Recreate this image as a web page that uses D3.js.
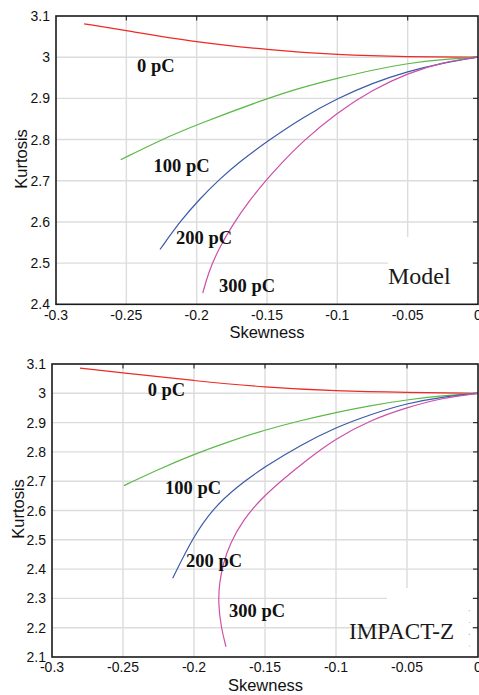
<!DOCTYPE html>
<html><head><meta charset="utf-8">
<script src="https://cdn.jsdelivr.net/npm/d3@7"></script>
<style>html,body{margin:0;padding:0;background:#fff;}svg{display:block;}</style>
</head><body>
<svg id="chart" width="479" height="695"></svg>
<script>
// ---------- DATA ----------
const xTicks = [-0.3, -0.25, -0.2, -0.15, -0.1, -0.05, 0];
const yTicksModel = [2.4, 2.5, 2.6, 2.7, 2.8, 2.9, 3, 3.1];
const yTicksImpact = [2.1, 2.2, 2.3, 2.4, 2.5, 2.6, 2.7, 2.8, 2.9, 3, 3.1];
const seriesNames = ["0 pC", "100 pC", "200 pC", "300 pC"];
const panelTitles = ["Model", "IMPACT-Z"];
const xTitle = "Skewness";
const yTitle = "Kurtosis";

// Model panel
const model0Skew = [-0.28, -0.25, -0.2, -0.15, -0.1, -0.05, 0];
const model0Kurt = [3.081, 3.0645, 3.036, 3.018, 3.0056, 3.0007, 3.0];
const model100Skew = [-0.254, -0.225, -0.2, -0.15, -0.125, -0.1, -0.075, -0.05, -0.025, 0];
const model100Kurt = [2.751, 2.800, 2.836, 2.900, 2.927, 2.949, 2.969, 2.985, 2.995, 3.0];
const model200Skew = [-0.2261, -0.2118, -0.1976, -0.1834, -0.1692, -0.15, -0.125, -0.1, -0.075, -0.05, -0.025, 0];
const model200Kurt = [2.533, 2.6015, 2.657, 2.705, 2.7465, 2.7954, 2.853, 2.900, 2.9373, 2.9654, 2.9864, 3.0];
const model300Skew = [-0.1957, -0.1917, -0.1846, -0.1751, -0.1621, -0.1502, -0.1408, -0.125, -0.1, -0.075, -0.05, -0.025, 0];
const model300Kurt = [2.427, 2.477, 2.533, 2.590, 2.654, 2.703, 2.739, 2.795, 2.866, 2.921, 2.961, 2.988, 3.0];

// IMPACT-Z panel
const impact0Skew = [-0.2803, -0.25, -0.2, -0.15, -0.1, -0.05, 0];
const impact0Kurt = [3.086, 3.070, 3.043, 3.0205, 3.0078, 3.003, 3.0];
const impact100Skew = [-0.2493, -0.225, -0.2, -0.175, -0.15, -0.125, -0.1, -0.075, -0.05, -0.025, 0];
const impact100Kurt = [2.685, 2.741, 2.792, 2.836, 2.875, 2.907, 2.935, 2.959, 2.978, 2.992, 3.0];
const impact200Skew = [-0.215, -0.2005, -0.1864, -0.1699, -0.15, -0.125, -0.1, -0.075, -0.05, -0.025, 0];
const impact200Kurt = [2.369, 2.511, 2.608, 2.681, 2.750, 2.823, 2.884, 2.929, 2.966, 2.988, 3.0];
const impact300Skew = [-0.1775, -0.181, -0.1829, -0.1822, -0.1794, -0.1746, -0.1653, -0.1535, -0.1394, -0.12, -0.1, -0.075, -0.05, -0.025, 0];
const impact300Kurt = [2.135, 2.203, 2.283, 2.352, 2.420, 2.488, 2.568, 2.636, 2.698, 2.775, 2.846, 2.910, 2.952, 2.984, 3.0];

// ---------- STYLE / LAYOUT ----------
const colors = ["#ee2a24", "#5cb947", "#3a5ba8", "#cc4fa8"];
const panels = [
  { left: 56, right: 478, top: 16, bottom: 304.3, yDomain: [2.4, 3.1], yTicks: yTicksModel,
    series: [[model0Skew, model0Kurt], [model100Skew, model100Kurt], [model200Skew, model200Kurt], [model300Skew, model300Kurt]],
    labelPos: [[137, 72], [153.5, 171.5], [176, 244], [219, 292]],
    titlePos: [388, 283.5], titleSize: 24,
    box: [388, 237, 472, 303],
    xLabelY: 320, xTitlePos: [267, 337.5], yTitlePos: [26.5, 159],
    dots: false },
  { left: 52, right: 478, top: 364, bottom: 657, yDomain: [2.1, 3.1], yTicks: yTicksImpact,
    series: [[impact0Skew, impact0Kurt], [impact100Skew, impact100Kurt], [impact200Skew, impact200Kurt], [impact300Skew, impact300Kurt]],
    labelPos: [[147.7, 396], [165, 494], [186, 567.3], [229, 616.7]],
    titlePos: [349, 639.3], titleSize: 23.2,
    box: [387, 588, 472, 656],
    xLabelY: 671.5, xTitlePos: [265.5, 691], yTitlePos: [23.5, 509],
    dots: true }
];

const svg = d3.select("#chart");
const sans = "'Liberation Sans', Arial, Helvetica, sans-serif";
const serif = "'Liberation Serif', 'Times New Roman', serif";
const fmt = d => String(d);

panels.forEach((p, pi) => {
  const x = d3.scaleLinear().domain([-0.3, 0]).range([p.left, p.right]);
  const y = d3.scaleLinear().domain(p.yDomain).range([p.bottom, p.top]);
  const g = svg.append("g");

  // grid
  g.selectAll(".vg").data(xTicks.slice(1, -1)).join("line")
    .attr("x1", d => x(d)).attr("x2", d => x(d)).attr("y1", p.top).attr("y2", p.bottom)
    .attr("stroke", "#dcdcdc").attr("stroke-width", 1.4);
  g.selectAll(".hg").data(p.yTicks.slice(1, -1)).join("line")
    .attr("x1", p.left).attr("x2", p.right).attr("y1", d => y(d)).attr("y2", d => y(d))
    .attr("stroke", "#dcdcdc").attr("stroke-width", 1.4);

  // white box behind panel title
  g.append("rect").attr("x", p.box[0]).attr("y", p.box[1])
    .attr("width", p.box[2] - p.box[0]).attr("height", p.box[3] - p.box[1]).attr("fill", "#fff");

  // inner ticks on top and right
  g.selectAll(".tt").data(xTicks.slice(1, -1)).join("line")
    .attr("x1", d => x(d)).attr("x2", d => x(d)).attr("y1", p.top).attr("y2", p.top + 4.5)
    .attr("stroke", "#333").attr("stroke-width", 1.2);
  g.selectAll(".rt").data(p.yTicks.slice(1, -1)).join("line")
    .attr("x1", p.right - 5).attr("x2", p.right).attr("y1", d => y(d)).attr("y2", d => y(d))
    .attr("stroke", "#333").attr("stroke-width", 1.2);

  // curves
  const line = d3.line().x(d => x(d[0])).y(d => y(d[1])).curve(d3.curveBasis);
  p.series.forEach((s, i) => {
    const pts = s[0].map((v, k) => [v, s[1][k]]);
    g.append("path").attr("d", line(pts)).attr("fill", "none")
      .attr("stroke", colors[i]).attr("stroke-width", 1.2);
  });

  // frame
  g.append("rect").attr("x", p.left).attr("y", p.top)
    .attr("width", p.right - p.left).attr("height", p.bottom - p.top)
    .attr("fill", "none").attr("stroke", "#1a1a1a").attr("stroke-width", 1.6);

  // tick labels
  g.selectAll(".xl").data(xTicks).join("text")
    .attr("x", d => x(d)).attr("y", p.xLabelY).attr("text-anchor", "middle")
    .attr("font-family", sans).attr("font-size", 14).attr("fill", "#111")
    .text(fmt);
  g.selectAll(".yl").data(p.yTicks).join("text")
    .attr("x", p.left - 6).attr("y", d => y(d)).attr("dy", "0.36em").attr("text-anchor", "end")
    .attr("font-family", sans).attr("font-size", 14).attr("fill", "#111")
    .text(fmt);

  // axis titles
  g.append("text").attr("x", p.xTitlePos[0]).attr("y", p.xTitlePos[1]).attr("text-anchor", "middle")
    .attr("font-family", sans).attr("font-size", 16.5).attr("fill", "#111").text(xTitle);
  g.append("text").attr("transform", `translate(${p.yTitlePos[0]},${p.yTitlePos[1]}) rotate(-90)`)
    .attr("text-anchor", "middle")
    .attr("font-family", sans).attr("font-size", 16.5).attr("fill", "#111").text(yTitle);

  // series labels
  seriesNames.forEach((nm, i) => {
    g.append("text").attr("x", p.labelPos[i][0]).attr("y", p.labelPos[i][1])
      .attr("font-family", serif).attr("font-weight", "bold").attr("font-size", 18.5)
      .attr("fill", "#111").text(nm);
  });

  // panel title
  g.append("text").attr("x", p.titlePos[0]).attr("y", p.titlePos[1])
    .attr("font-family", serif).attr("font-size", p.titleSize).attr("fill", "#1a1a1a")
    .text(panelTitles[pi]);

  // faint legend remnants
  if (p.dots) {
    colors.forEach((c, i) => {
      g.append("rect").attr("x", 468.8).attr("y", 610.2 + i * 11.8).attr("width", 1).attr("height", 1)
        .attr("fill", c).attr("opacity", 0.6);
    });
  }
});
</script>
</body></html>
